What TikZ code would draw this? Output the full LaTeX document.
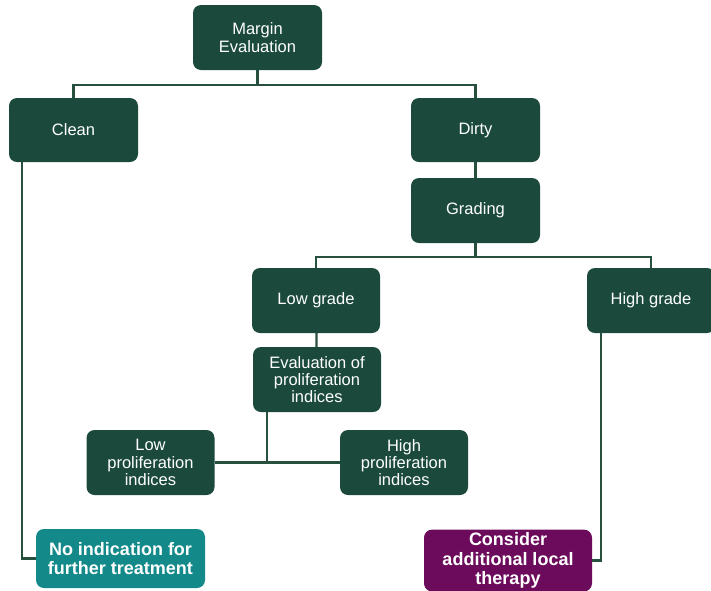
\documentclass[tikz,border=0pt]{standalone}
\usepackage{fontspec}
\setmainfont{Liberation Sans}
\usepackage{tikz}
\usetikzlibrary{positioning,calc}
\definecolor{cNode}{HTML}{1B4A3D}
\definecolor{cLine}{HTML}{28503F}
\definecolor{cNone}{HTML}{13898A}
\definecolor{cLocal}{HTML}{6C0B5C}
\tikzset{
  blk/.style  = {rounded corners=8pt, align=center, text=white, inner sep=3pt,
                 minimum width=128pt, minimum height=65pt, font=\fontsize{16.5}{17.3}\selectfont},
  stp/.style  = {blk, fill=cNode},
  res/.style  = {blk, font=\bfseries\fontsize{18}{19.5}\selectfont, minimum height=59pt},
  nind/.style = {res, fill=cNone, minimum width=169pt},
  loc/.style  = {res, fill=cLocal, minimum width=168pt},
  ln/.style   = {draw=cLine, line width=2.2pt},
}
\begin{document}
\begin{tikzpicture}[x=1pt, y=-1pt]
  \useasboundingbox (0,0) rectangle (711,590);

  \node[stp, minimum width=129pt] (me) at (257.5,37.5) {Margin\\ Evaluation};
  \node[stp, minimum width=129pt, minimum height=64pt] (cl) at (73.5,130) {Clean};
  \node[stp, minimum width=129pt, minimum height=64pt] (di) at (475.5,130) {Dirty};
  \node[stp, minimum width=129pt] (gr) at (475.5,210.5) {Grading};
  \node[stp] (lg) at (316,300.5) {Low grade};
  \node[stp] (hg) at (651,300.5) {High grade};
  \node[stp] (ep) at (317,379.5) {Evaluation of\\ proliferation\\ indices};
  \node[stp] (lp) at (150.5,462.5) {Low\\ proliferation\\ indices};
  \node[stp] (hp) at (404,462.5) {High\\ proliferation\\ indices};
  \node[nind] (ni) at (120.5,558.5) {No indication for\\ further treatment};
  \node[loc] (ca) at (508,560.5) {Consider\\ additional local\\ therapy};

  \coordinate (j1) at (257.5,85);
  \coordinate (j2) at (475.5,257);
  \coordinate (j3) at (267,463);

  \draw[ln] (me.south) -- (j1);
  \draw[ln] (cl.north) |- (j1) -| (di.north);
  \draw[ln] (di) -- (gr);
  \draw[ln] (gr.south) -- (j2);
  \draw[ln] (lg.north) |- (j2) -| (hg.north);
  \draw[ln] (lg) -- (ep);
  \draw[ln] (ep.south -| j3) -- (j3);
  \draw[ln] (lp.east) -- (hp.west);
  \draw[ln] ([xshift=13pt]cl.south west) |- (ni.west);
  \draw[ln] ([xshift=14pt]hg.south west) |- (ca.east);
\end{tikzpicture}
\end{document}
